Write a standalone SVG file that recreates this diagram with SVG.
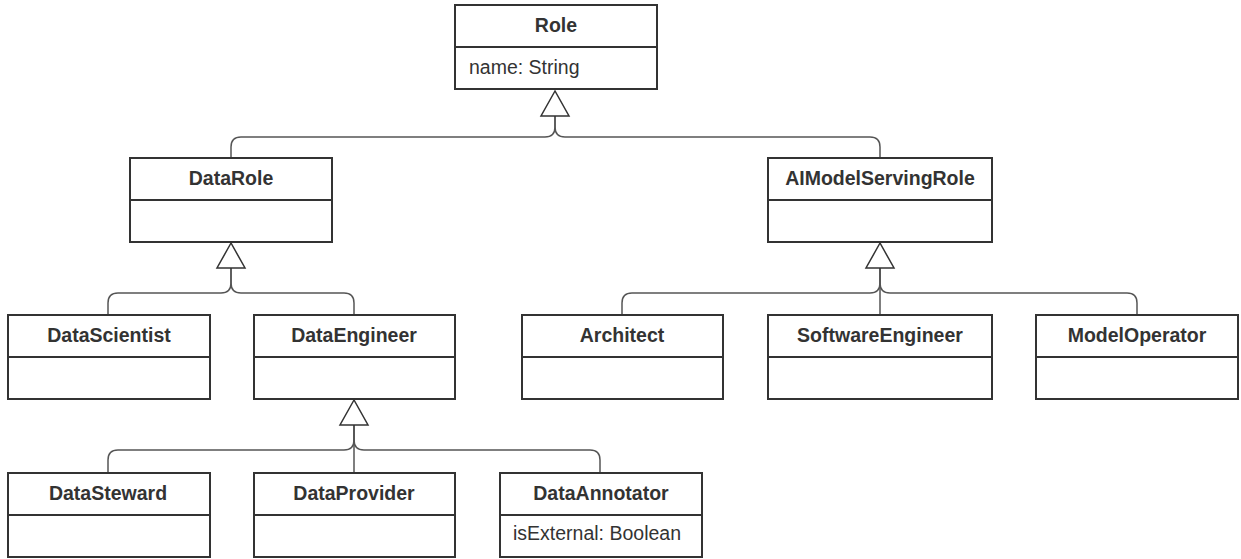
<svg xmlns="http://www.w3.org/2000/svg" width="1241" height="559" viewBox="0 0 1241 559">
<style>
.box{fill:#fff;stroke:#333;stroke-width:2}
.div{stroke:#333;stroke-width:2}
.title{font-family:"Liberation Sans",Arial,sans-serif;font-size:19.5px;font-weight:bold;fill:#333;text-anchor:middle}
.attr{font-family:"Liberation Sans",Arial,sans-serif;font-size:19.5px;fill:#333}
.conn{fill:none;stroke:#555;stroke-width:1.5}
.tri{fill:#fff;stroke:#333;stroke-width:1.5}
</style>
<rect width="1241" height="559" fill="#fff"/>
<g id="connectors">
  <!-- Role generalization -->
  <path class="conn" d="M231,158 V147 Q231,137 241,137 H545 Q555,137 555,127 V116"/>
  <path class="conn" d="M880,158 V147 Q880,137 870,137 H565 Q555,137 555,127 V116"/>
  <polygon class="tri" points="555,91 541,116 569,116"/>
  <!-- DataRole generalization -->
  <path class="conn" d="M108,315 V303 Q108,293 118,293 H221 Q231,293 231,283 V268"/>
  <path class="conn" d="M354,315 V303 Q354,293 344,293 H241 Q231,293 231,283 V268"/>
  <polygon class="tri" points="231,243 217,268 245,268"/>
  <!-- AIModelServingRole generalization -->
  <path class="conn" d="M622,315 V303 Q622,293 632,293 H870 Q880,293 880,283 V268"/>
  <path class="conn" d="M1137,315 V303 Q1137,293 1127,293 H890 Q880,293 880,283 V268"/>
  <path class="conn" d="M880,315 V268"/>
  <polygon class="tri" points="880,243 866,268 894,268"/>
  <!-- DataEngineer generalization -->
  <path class="conn" d="M108,473 V460 Q108,450 118,450 H344 Q354,450 354,440 V425"/>
  <path class="conn" d="M600,473 V460 Q600,450 590,450 H364 Q354,450 354,440 V425"/>
  <path class="conn" d="M354,473 V425"/>
  <polygon class="tri" points="354,400 340,425 368,425"/>
</g>
<g id="Role">
  <rect class="box" x="455" y="5" width="202" height="84"/>
  <line class="div" x1="455" y1="47" x2="657" y2="47"/>
  <text class="title" x="556" y="32">Role</text>
  <text class="attr" x="469" y="74">name: String</text>
</g>
<g id="DataRole">
  <rect class="box" x="130" y="158" width="202" height="84"/>
  <line class="div" x1="130" y1="200" x2="332" y2="200"/>
  <text class="title" x="231" y="185">DataRole</text>
</g>
<g id="AIModelServingRole">
  <rect class="box" x="768" y="158" width="224" height="84"/>
  <line class="div" x1="768" y1="200" x2="992" y2="200"/>
  <text class="title" x="880" y="185">AIModelServingRole</text>
</g>
<g id="DataScientist">
  <rect class="box" x="8" y="315" width="202" height="84"/>
  <line class="div" x1="8" y1="357" x2="210" y2="357"/>
  <text class="title" x="109" y="342">DataScientist</text>
</g>
<g id="DataEngineer">
  <rect class="box" x="254" y="315" width="201" height="84"/>
  <line class="div" x1="254" y1="357" x2="455" y2="357"/>
  <text class="title" x="354" y="342">DataEngineer</text>
</g>
<g id="Architect">
  <rect class="box" x="522" y="315" width="201" height="84"/>
  <line class="div" x1="522" y1="357" x2="723" y2="357"/>
  <text class="title" x="622" y="342">Architect</text>
</g>
<g id="SoftwareEngineer">
  <rect class="box" x="768" y="315" width="224" height="84"/>
  <line class="div" x1="768" y1="357" x2="992" y2="357"/>
  <text class="title" x="880" y="342">SoftwareEngineer</text>
</g>
<g id="ModelOperator">
  <rect class="box" x="1036" y="315" width="202" height="84"/>
  <line class="div" x1="1036" y1="357" x2="1238" y2="357"/>
  <text class="title" x="1137" y="342">ModelOperator</text>
</g>
<g id="DataSteward">
  <rect class="box" x="8" y="473" width="202" height="84"/>
  <line class="div" x1="8" y1="515" x2="210" y2="515"/>
  <text class="title" x="108" y="500">DataSteward</text>
</g>
<g id="DataProvider">
  <rect class="box" x="254" y="473" width="201" height="84"/>
  <line class="div" x1="254" y1="515" x2="455" y2="515"/>
  <text class="title" x="354" y="500">DataProvider</text>
</g>
<g id="DataAnnotator">
  <rect class="box" x="500" y="473" width="202" height="84"/>
  <line class="div" x1="500" y1="515" x2="702" y2="515"/>
  <text class="title" x="601" y="500">DataAnnotator</text>
  <text class="attr" x="513" y="540">isExternal: Boolean</text>
</g>
</svg>
